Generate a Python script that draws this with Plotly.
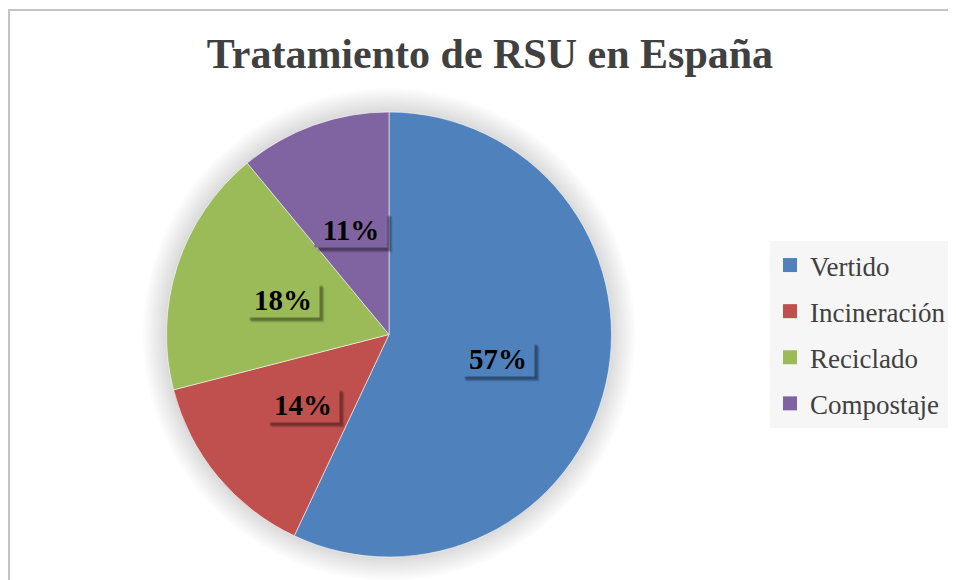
import math
import plotly.graph_objects as go

categories = ["Vertido", "Incineración", "Reciclado", "Compostaje"]
values = [57, 14, 18, 11]
colors = ["#4F81BD", "#C0504D", "#9BBB59", "#8064A2"]
title_text = "Tratamiento de RSU en España"

W, H = 956, 580
OFF = 8  # page body margin in the browser
# desired screen positions (px)
PIE_TOP, PIE_BOTTOM, PIE_CX = 112, 557, 389

MT = PIE_TOP - OFF
MB = H - (PIE_BOTTOM - OFF)
ML, MR = 0, 0
PW, PH = W - ML - MR, H - MT - MB
R = PH / 2.0
CX = PIE_CX - OFF
CY = MT + R


def px_to_paper(px, py):
    # px, py are screen coordinates
    fx, fy = px - OFF, py - OFF
    return (fx - ML) / PW, 1 - (fy - MT) / PH


def fig_to_paper(fx, fy):
    return (fx - ML) / PW, 1 - (fy - MT) / PH


fig = go.Figure()

x0d = (CX - R - ML) / PW
x1d = (CX + R - ML) / PW

fig.add_trace(go.Pie(
    labels=categories,
    values=values,
    sort=False,
    direction="clockwise",
    rotation=0,
    marker=dict(colors=colors, line=dict(color="rgba(255,255,255,0.55)", width=1)),
    textinfo="none",
    hoverinfo="label+percent",
    showlegend=False,
    domain=dict(x=[x0d, x1d], y=[0, 1]),
))

# legend entries
for name, col in zip(categories, colors):
    fig.add_trace(go.Scatter(
        x=[None], y=[None], mode="markers", name=name, legendgroup=name,
        marker=dict(symbol="square", size=14, color=col, line=dict(width=0)),
        showlegend=True,
    ))

# labels at half radius along mid-angle
annotations = []
total = sum(values)
cum = 0.0
for v, col in zip(values, colors):
    mid = (cum + v / 2.0) / total * 2 * math.pi
    cum += v
    lx = CX + 0.5 * R * math.sin(mid)
    ly = CY - 0.5 * R * math.cos(mid)
    ax, ay = fig_to_paper(lx, ly)
    pct = round(v / total * 100)
    for sh, op in [(5, 0.10), (4, 0.15), (3, 0.2)]:
        annotations.append(dict(
            x=ax, y=ay, xref="paper", yref="paper", text="", showarrow=False,
            xanchor="center", yanchor="middle",
            width=72, height=34, bgcolor=f"rgba(0,0,0,{op})", borderpad=0,
            xshift=sh, yshift=-sh,
        ))
    annotations.append(dict(
        x=ax, y=ay, xref="paper", yref="paper", text=f"<b>{pct}%</b>", showarrow=False,
        xanchor="center", yanchor="middle",
        width=72, height=34, bgcolor=col, borderpad=0,
        font=dict(family="Liberation Serif", size=29, color="#000000"),
    ))

shapes = []
# soft halo under pie
for i in range(12, 0, -1):
    rr = R + 2.0 * i
    a0, b0 = fig_to_paper(CX - rr, CY + rr)
    a1, b1 = fig_to_paper(CX + rr, CY - rr)
    shapes.append(dict(type="circle", xref="paper", yref="paper", x0=a0, y0=b0, x1=a1, y1=b1,
                       fillcolor="rgba(0,0,0,0.011)", line=dict(width=0), layer="below"))
# chart border
bx0, by0 = px_to_paper(9, 10)
bx1, by1 = px_to_paper(990, 620)
shapes.append(dict(type="rect", xref="paper", yref="paper", x0=bx0, y0=by1, x1=bx1, y1=by0,
                   line=dict(color="#C4C4C4", width=2), fillcolor="rgba(0,0,0,0)", layer="below"))

lgx, lgy = px_to_paper(770, 241)

fig.update_layout(
    width=W, height=H,
    margin=dict(l=ML, r=MR, t=MT, b=MB),
    paper_bgcolor="white", plot_bgcolor="white",
    title=dict(text=f"<b>{title_text}</b>", x=(490 - OFF) / W, xanchor="center",
               y=1 - (53 - OFF) / H, yanchor="middle",
               xref="container", yref="container",
               font=dict(family="Liberation Serif", size=42, color="#404040")),
    xaxis=dict(visible=False), yaxis=dict(visible=False),
    showlegend=True,
    legend=dict(x=lgx, y=lgy, xanchor="left", yanchor="top", bgcolor="#F6F6F6",
                font=dict(family="Liberation Serif", size=27, color="#404040"),
                tracegroupgap=8, itemclick=False),
    annotations=annotations,
    shapes=shapes,
)

fig.write_html("out.html")
